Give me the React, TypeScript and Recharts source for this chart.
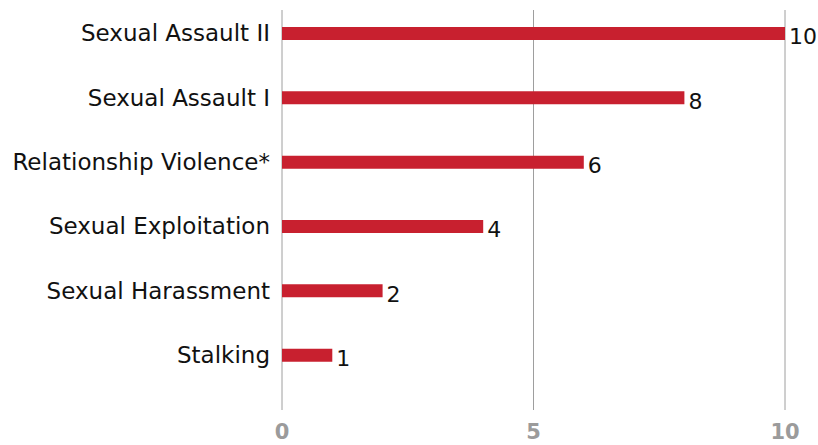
import { BarChart, Bar, XAxis, YAxis, CartesianGrid, LabelList } from "recharts";

const categories = [
  "Sexual Assault II",
  "Sexual Assault I",
  "Relationship Violence*",
  "Sexual Exploitation",
  "Sexual Harassment",
  "Stalking",
];
const counts = [10, 8, 6, 4, 2, 1];
const xTicks = [0, 5, 10];

const data = categories.map((name, i) => ({ name, count: counts[i] }));

const FONT = "'DejaVu Sans', sans-serif";

export default function App() {
  return (
    <div style={{ position: "absolute", left: 0, top: 0, background: "#fff" }}>
      <BarChart
        width={818}
        height={445}
        data={data}
        layout="vertical"
        margin={{ top: 1, right: 33, bottom: 0, left: 0 }}
      >
        <CartesianGrid horizontal={false} stroke="#9e9e9e" y={10} height={400} />
        <XAxis
          type="number"
          domain={[0, 10]}
          ticks={xTicks}
          axisLine={false}
          tickLine={false}
          height={35}
          tickMargin={8}
          tick={{ fill: "#9b9b9b", fontSize: 21, fontWeight: 700, fontFamily: FONT }}
        />
        <YAxis
          type="category"
          dataKey="name"
          width={282}
          axisLine={false}
          tickLine={false}
          tickMargin={6}
          padding={{ top: 0, bottom: 23 }}
          tick={{ fill: "#111", fontSize: 23, fontFamily: FONT }}
        />
        <Bar dataKey="count" fill="#c8202f" barSize={13} isAnimationActive={false}>
          <LabelList
            dataKey="count"
            position="right"
            offset={4}
            dy={3}
            style={{ fill: "#111", fontSize: 22, fontFamily: FONT }}
          />
        </Bar>
      </BarChart>
    </div>
  );
}
